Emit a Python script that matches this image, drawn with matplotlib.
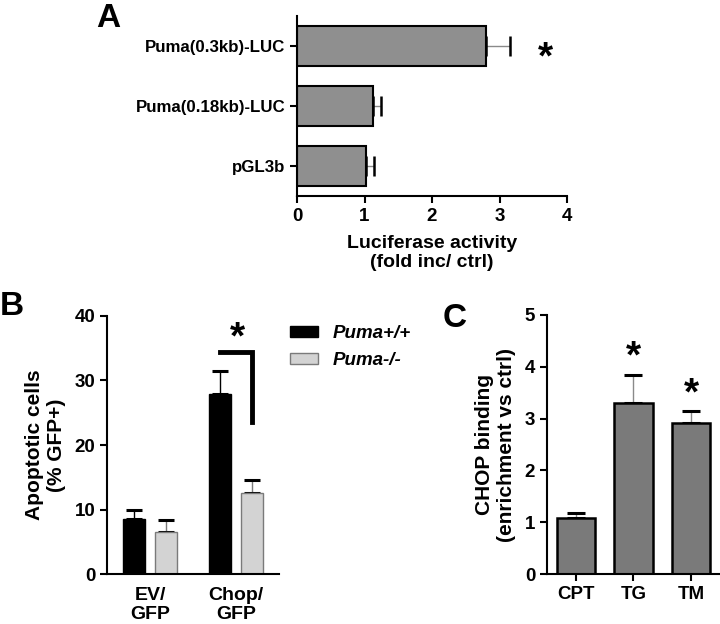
import numpy as np
import matplotlib
matplotlib.use('Agg')
import matplotlib.pyplot as plt
from matplotlib.patches import Patch

plt.rcParams['font.family'] = ['Liberation Sans', 'DejaVu Sans']
plt.rcParams['font.weight'] = 'bold'
plt.rcParams['axes.labelweight'] = 'bold'
plt.rcParams['axes.linewidth'] = 1.5

# panel A: luciferase activity
a_labels = ['pGL3b', 'Puma(0.18kb)-LUC', 'Puma(0.3kb)-LUC']
a_means = [1.02, 1.12, 2.80]
a_sem = [0.12, 0.12, 0.36]

# panel B: apoptotic cells
b_groups = ['EV/\nGFP', 'Chop/\nGFP']
b_wt = [8.5, 27.9]
b_wt_sem = [1.4, 3.5]
b_ko = [6.5, 12.6]
b_ko_sem = [1.9, 1.9]
b_legend = ['Puma+/+', 'Puma-/-']

# panel C: CHOP binding
c_labels = ['CPT', 'TG', 'TM']
c_means = [1.09, 3.31, 2.91]
c_sem = [0.08, 0.54, 0.24]


def star(ax, x, y, size=28):
    # put the ink centre of the asterisk at (x, y)
    ax.annotate('*', xy=(x, y), xytext=(0, -0.58 * size), textcoords='offset points',
                ha='center', va='baseline', fontsize=size, fontweight='bold',
                annotation_clip=False)


def black_caps(eb):
    for cap in eb[1]:
        cap.set_markeredgecolor('black')
        cap.set_markerfacecolor('black')


fig = plt.figure(figsize=(7.2, 6.24), dpi=100)

# ---- A ----
axA = fig.add_axes([0.4125, 0.6859, 0.375, 0.2885])
ya = np.arange(len(a_labels))
axA.barh(ya, a_means, height=0.667, color='#8f8f8f', edgecolor='black', linewidth=1.5, zorder=2)
eb = axA.errorbar(a_means, ya, xerr=[np.zeros(3), a_sem], fmt='none', ecolor='#8a8a8a',
                  elinewidth=1, capsize=7, capthick=1.8, zorder=1)
black_caps(eb)
axA.set_xlim(0, 4)
axA.set_ylim(-0.5, 2.5)
axA.set_xticks([0, 1, 2, 3, 4])
axA.set_yticks(ya)
axA.set_yticklabels(a_labels, fontsize=12.2)
axA.tick_params(axis='x', labelsize=13.5)
axA.tick_params(length=5, width=1.5)
axA.spines['top'].set_visible(False)
axA.spines['right'].set_visible(False)
axA.set_xlabel('Luciferase activity\n(fold inc/ ctrl)', fontsize=14, labelpad=7)
star(axA, 3.68, 2)

# ---- B ----
axB = fig.add_axes([0.1486, 0.0801, 0.2389, 0.4135])
xb = np.arange(len(b_groups))
off = 0.185
w = 0.254
axB.bar(xb - off, b_wt, width=w, color='black', edgecolor='black', linewidth=1, zorder=2)
axB.bar(xb + off, b_ko, width=w, color='#d3d3d3', edgecolor='#7a7a7a', linewidth=1, zorder=2)
eb = axB.errorbar(xb - off, b_wt, yerr=[np.zeros(2), b_wt_sem], fmt='none', ecolor='black',
                  elinewidth=1, capsize=6, capthick=2.2, zorder=1)
eb = axB.errorbar(xb + off, b_ko, yerr=[np.zeros(2), b_ko_sem], fmt='none', ecolor='#7a7a7a',
                  elinewidth=1, capsize=6, capthick=2.2, zorder=1)
black_caps(eb)
axB.set_xlim(-0.5, 1.5)
axB.set_ylim(0, 40)
axB.set_yticks([0, 10, 20, 30, 40])
axB.set_xticks(xb)
axB.set_xticklabels(b_groups, fontsize=14)
axB.tick_params(axis='x', length=0, pad=9)
axB.tick_params(axis='y', length=5, width=1.5, labelsize=13.5)
axB.spines['top'].set_visible(False)
axB.spines['right'].set_visible(False)
axB.set_ylabel('Apoptotic cells\n(% GFP+)', fontsize=15, labelpad=6)
# significance bracket
axB.plot([1 - off, 1 + off, 1 + off], [34.4, 34.4, 23.5], color='black', lw=3.5,
         solid_joinstyle='miter', clip_on=False)
star(axB, 1.02, 38.4)
handles = [Patch(facecolor='black', edgecolor='black'),
           Patch(facecolor='#d3d3d3', edgecolor='#7a7a7a')]
axB.legend(handles, b_legend, loc='upper left', bbox_to_anchor=(1.064, 0.965), frameon=False,
           borderpad=0, borderaxespad=0, handlelength=1.5, handleheight=0.55,
           handletextpad=0.8, labelspacing=0.55,
           prop={'style': 'italic', 'weight': 'bold', 'size': 13.5})

# ---- C ----
axC = fig.add_axes([0.7597, 0.0801, 0.2403, 0.4151])
xc = np.arange(len(c_labels))
axC.bar(xc, c_means, width=0.66, color='#7a7a7a', edgecolor='black', linewidth=1.8, zorder=2)
eb = axC.errorbar(xc, c_means, yerr=[np.zeros(3), c_sem], fmt='none', ecolor='#8a8a8a',
                  elinewidth=1, capsize=6.5, capthick=2.2, zorder=1)
black_caps(eb)
axC.set_xlim(-0.5, 2.5)
axC.set_ylim(0, 5)
axC.set_yticks([0, 1, 2, 3, 4, 5])
axC.set_xticks(xc)
axC.set_xticklabels(c_labels, fontsize=14)
axC.tick_params(length=5, width=1.5, labelsize=13.5)
axC.spines['top'].set_visible(False)
axC.spines['right'].set_visible(False)
axC.set_ylabel('CHOP binding\n(enrichment vs ctrl)', fontsize=15, labelpad=6)
star(axC, 1, 4.42)
star(axC, 2, 3.71)

# panel letters
fig.text(96 / 720, 1 - 27 / 624, 'A', fontsize=24, fontweight='bold', va='baseline')
fig.text(0 / 720, 1 - 315 / 624, 'B', fontsize=24, fontweight='bold', va='baseline')
fig.text(443 / 720, 1 - 327 / 624, 'C', fontsize=24, fontweight='bold', va='baseline')

fig.savefig('out.png', dpi=100)
